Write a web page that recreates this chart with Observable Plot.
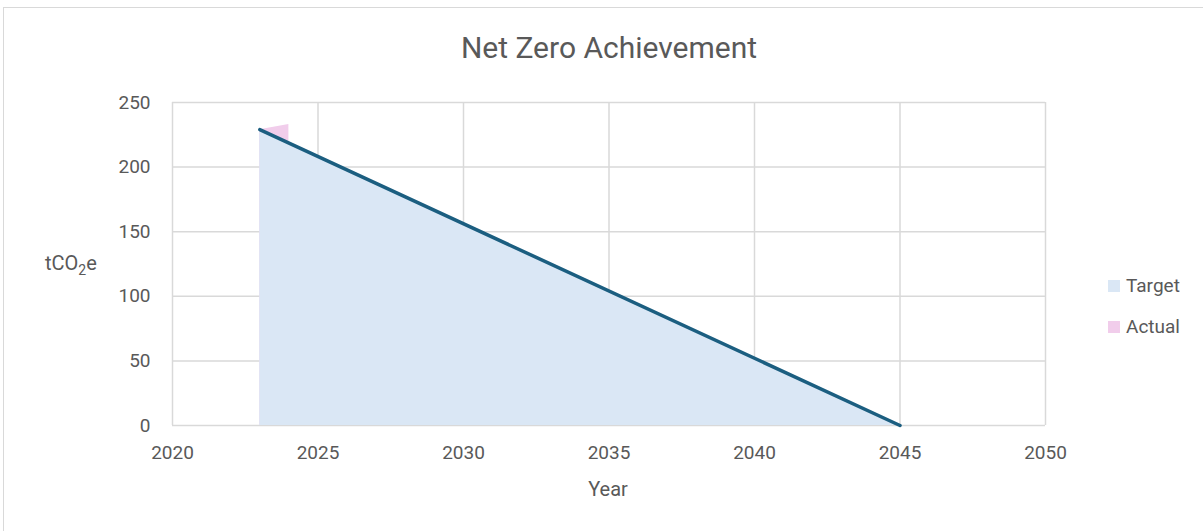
<!DOCTYPE html>
<html><head><meta charset="utf-8">
<script src="https://cdn.jsdelivr.net/npm/d3@7"></script>
<script src="https://cdn.jsdelivr.net/npm/@observablehq/plot@0.6"></script>
<style>
body{margin:0;background:#fff;font-family:Roboto,sans-serif;color:#595959}
#wrap{position:relative;width:1203px;height:531px}
#frame{position:absolute;left:3px;top:7px;width:1200px;height:524px;border:1px solid #d9d9d9;border-right:none;border-bottom:none;box-sizing:border-box}
.t{position:absolute;white-space:nowrap}
</style></head><body>
<div id="wrap"><div id="frame"></div><div id="chart"></div>
<div class="t" style="left:0;width:1218px;top:30px;text-align:center;font-size:30px;font-weight:400">Net Zero Achievement</div>
<div class="t" style="left:558px;width:100px;text-align:center;top:477px;font-size:20px">Year</div>
<div class="t" style="left:45px;top:251px;font-size:20px">tCO<sub style="font-size:14px">2</sub>e</div>
<div class="t" style="left:1108px;top:274px;font-size:19px"><span style="display:inline-block;width:12px;height:12px;background:#dae7f5;margin-right:6px"></span>Target</div>
<div class="t" style="left:1108px;top:315px;font-size:19px"><span style="display:inline-block;width:12px;height:12px;background:#f1cdeb;margin-right:6px"></span>Actual</div>
</div>
<script>
const targetYears = [2023, 2045];
const targetValues = [229, 0];
const actualYears = [2023, 2024];
const actualValues = [229, 233];
const xTicks = [2020, 2025, 2030, 2035, 2040, 2045, 2050];
const yTicks = [0, 50, 100, 150, 200, 250];

const target = targetYears.map((y, i) => ({year: y, value: targetValues[i]}));
const actual = actualYears.map((y, i) => ({year: y, value: actualValues[i]}));

const chart = Plot.plot({
  width: 1203, height: 531,
  marginLeft: 172, marginRight: 158, marginTop: 102, marginBottom: 106,
  style: {fontFamily: "Roboto, sans-serif", fontSize: "19px", color: "#595959", background: "transparent"},
  x: {domain: [2020, 2050], ticks: xTicks, tickFormat: d => String(d), label: null},
  y: {domain: [0, 250], ticks: yTicks, label: null},
  marks: [
    Plot.gridX(xTicks, {stroke: "#d9d9d9", strokeOpacity: 1, strokeWidth: 1.5}),
    Plot.gridY(yTicks, {stroke: "#d9d9d9", strokeOpacity: 1, strokeWidth: 1.5}),
    Plot.areaY(actual, {x: "year", y: "value", fill: "#f1cdeb"}),
    Plot.areaY(target, {x: "year", y: "value", fill: "#dae7f5"}),
    Plot.line(target, {x: "year", y: "value", stroke: "#1b5e80", strokeWidth: 3.5, strokeLinecap: "round"}),
    Plot.axisX({ticks: xTicks, tickSize: 0, tickPadding: 20, tickFormat: d => String(d)}),
    Plot.axisY({ticks: yTicks, tickSize: 0, tickPadding: 22})
  ]
});
chart.style.position = "absolute";
chart.style.left = "0";
chart.style.top = "0";
document.getElementById("chart").appendChild(chart);
</script>
</body></html>
